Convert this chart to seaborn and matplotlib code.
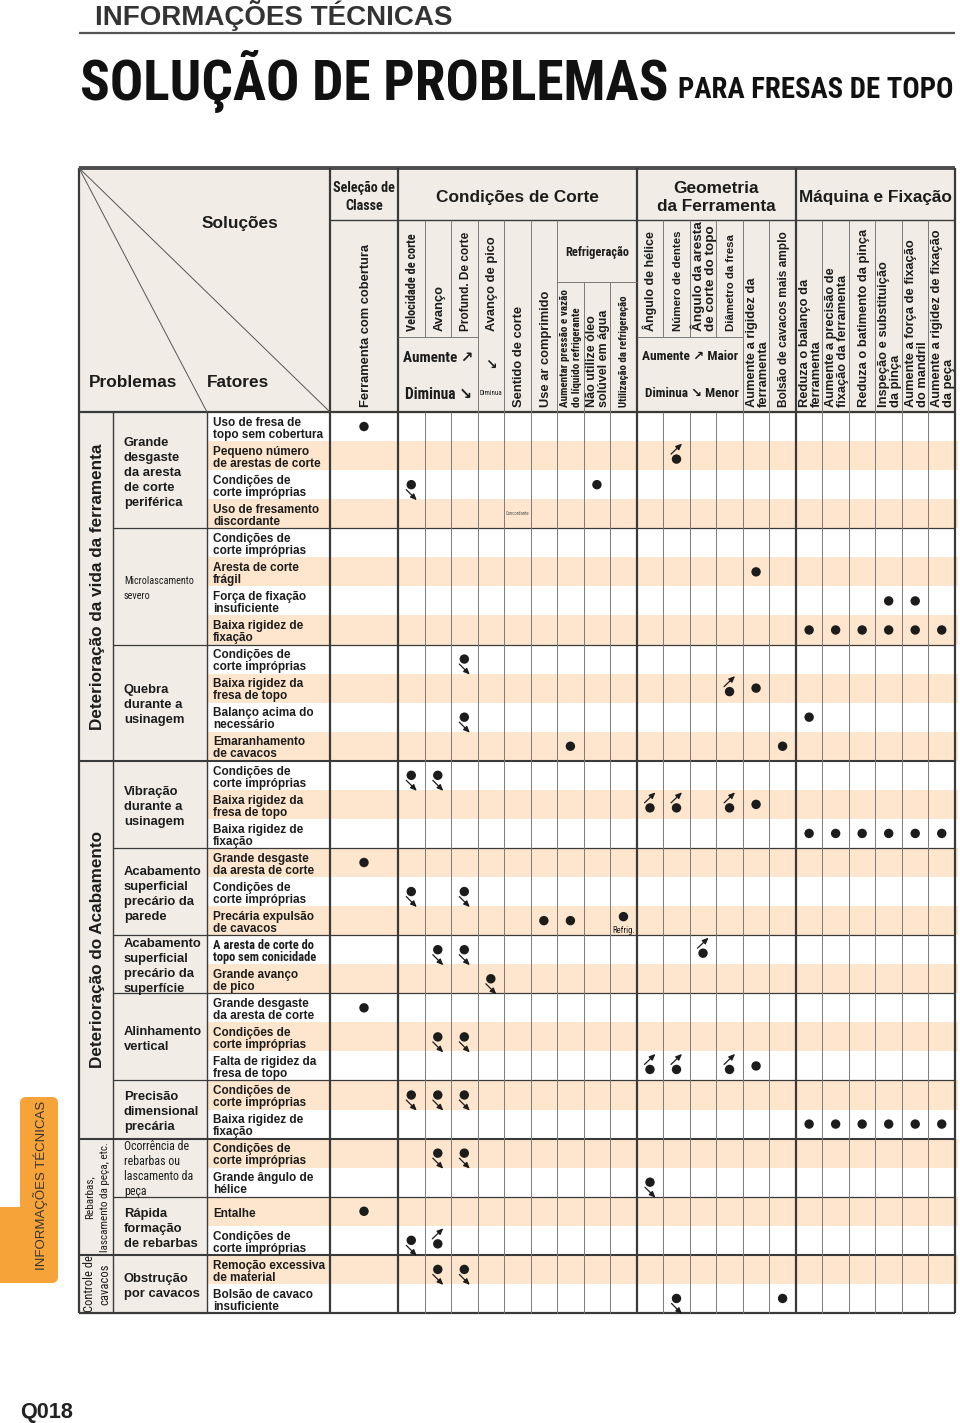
import numpy as np
import pandas as pd
import matplotlib
matplotlib.use("Agg")
import matplotlib.pyplot as plt
import seaborn as sns
from matplotlib.patches import Rectangle, FancyBboxPatch
from matplotlib import font_manager as fm

# ---------------- DATA ----------------
categories = ["Deterioração da vida da ferramenta", "Deterioração do Acabamento",
              "Rebarbas,\nlascamento da peça, etc.", "Controle de\ncavacos"]
category_sizes = [12, 13, 4, 2]

problems = ["Grande\ndesgaste\nda aresta\nde corte\nperiférica", "Microlascamento\nsevero",
            "Quebra\ndurante a\nusinagem", "Vibração\ndurante a\nusinagem",
            "Acabamento\nsuperficial\nprecário da\nparede",
            "Acabamento\nsuperficial\nprecário da\nsuperfície", "Alinhamento\nvertical",
            "Precisão\ndimensional\nprecária", "Ocorrência de\nrebarbas ou\nlascamento da\npeça",
            "Rápida\nformação\nde rebarbas", "Obstrução\npor cavacos"]
problem_sizes = [4, 4, 4, 3, 3, 2, 3, 2, 2, 2, 2]

factors = ["Uso de fresa de\ntopo sem cobertura", "Pequeno número\nde arestas de corte",
           "Condições de\ncorte impróprias", "Uso de fresamento\ndiscordante",
           "Condições de\ncorte impróprias", "Aresta de corte\nfrágil",
           "Força de fixação\ninsuficiente", "Baixa rigidez de\nfixação",
           "Condições de\ncorte impróprias", "Baixa rigidez da\nfresa de topo",
           "Balanço acima do\nnecessário", "Emaranhamento\nde cavacos",
           "Condições de\ncorte impróprias", "Baixa rigidez da\nfresa de topo",
           "Baixa rigidez de\nfixação", "Grande desgaste\nda aresta de corte",
           "Condições de\ncorte impróprias", "Precária expulsão\nde cavacos",
           "A aresta de corte do\ntopo sem conicidade", "Grande avanço\nde pico",
           "Grande desgaste\nda aresta de corte", "Condições de\ncorte impróprias",
           "Falta de rigidez da\nfresa de topo", "Condições de\ncorte impróprias",
           "Baixa rigidez de\nfixação", "Condições de\ncorte impróprias",
           "Grande ângulo de\nhélice", "Entalhe", "Condições de\ncorte impróprias",
           "Remoção excessiva\nde material", "Bolsão de cavaco\ninsuficiente"]

groups = ["Seleção de\nClasse", "Condições de Corte", "Geometria\nda Ferramenta", "Máquina e Fixação"]
group_sizes = [1, 9, 6, 6]

columns = ["Ferramenta com cobertura", "Velocidade de corte", "Avanço", "Profund. De corte",
           "Avanço de pico", "Sentido de corte", "Use ar comprimido",
           "Aumentar pressão e vazão\ndo líquido refrigerante", "Não utilize óleo\nsolúvel em água",
           "Utilização da refrigeração", "Ângulo de hélice", "Número de dentes",
           "Ângulo da aresta\nde corte do topo", "Diâmetro da fresa",
           "Aumente a rigidez da\nferramenta", "Bolsão de cavacos mais amplo",
           "Reduza o balanço da\nferramenta", "Aumente a precisão de\nfixação da ferramenta",
           "Reduza o batimento da pinça", "Inspeção e substituição\nda pinça",
           "Aumente a força de fixação\ndo mandril", "Aumente a rigidez de fixação\nda peça"]
refrig_label = "Refrigeração"
cut_box = ["Aumente ↗", "Diminua ↘"]
geo_box = ["Aumente ↗ Maior", "Diminua ↘ Menor"]
pico_box = ["↘", "Diminua"]

mark_rows = [1, 2, 3, 3, 6, 7, 7, 8, 8, 8, 8, 8, 8, 9, 10, 10, 11, 11, 12, 12, 13, 13,
             14, 14, 14, 14, 15, 15, 15, 15, 15, 15, 16, 17, 17, 18, 18, 18, 19, 19, 19,
             20, 21, 22, 22, 23, 23, 23, 23, 24, 24, 24, 25, 25, 25, 25, 25, 25, 26, 26,
             27, 28, 29, 29, 30, 30, 31, 31]
mark_cols = [0, 11, 1, 8, 14, 19, 20, 16, 17, 18, 19, 20, 21, 3, 13, 14, 3, 16, 7, 15, 1, 2,
             10, 11, 13, 14, 16, 17, 18, 19, 20, 21, 0, 1, 3, 6, 7, 9, 2, 3, 12,
             4, 0, 2, 3, 10, 11, 13, 14, 1, 2, 3, 16, 17, 18, 19, 20, 21, 2, 3,
             10, 0, 1, 2, 2, 3, 11, 15]
mark_kinds = ["dot", "up", "down", "dot", "dot", "dot", "dot", "dot", "dot", "dot", "dot", "dot", "dot",
              "down", "up", "dot", "down", "dot", "dot", "dot", "down", "down",
              "up", "up", "up", "dot", "dot", "dot", "dot", "dot", "dot", "dot",
              "dot", "down", "down", "dot", "dot", "dot", "down", "down", "up",
              "down", "dot", "down", "down", "up", "up", "up", "dot", "down", "down", "down",
              "dot", "dot", "dot", "dot", "dot", "dot", "down", "down",
              "down", "dot", "down", "up", "down", "down", "down", "dot"]

note_rows = [4, 18]
note_cols = [5, 9]
note_texts = ["Concordante", "Refrig."]

# ---------------- FONTS ----------------
sns.set_theme(style="white")
SANS = ["Liberation Sans", "DejaVu Sans"]
_entries = fm.fontManager.ttflist
_names = {e.name for e in _entries}
NARROW, NSTRETCH = ["Liberation Sans", "DejaVu Sans"], "normal"
for cand in ["Liberation Sans Narrow", "Roboto Condensed", "Noto Sans Condensed",
             "Archivo Narrow", "Asap Condensed"]:
    if cand in _names:
        NARROW = [cand, "DejaVu Sans"]
        break
else:
    if any(e.name == "DejaVu Sans" and "condensed" in str(e.stretch) for e in _entries):
        NARROW, NSTRETCH = ["DejaVu Sans"], "condensed"
TITLE, TSTRETCH = NARROW, NSTRETCH
for cand in ["Roboto Condensed", "Barlow Condensed", "Noto Sans Condensed",
             "Liberation Sans Narrow"]:
    if cand in _names:
        TITLE, TSTRETCH = [cand, "DejaVu Sans"], "normal"
        break
plt.rcParams["font.family"] = SANS

INK = "#1c1c1c"
LINE = "#3a3a3a"
GRID = "#7a7a7a"
BEIGE = "#f1ede6"
STRIPE = "#fde6cd"
ORANGE = "#f6a43a"
PX = 100 / 72

X0, X_CAT, X_PROB, X_FAT, X_SEL, X1 = 79, 113, 207, 330, 398, 955
COL_W = (X1 - X_SEL) / 21
Y_TOP, Y_GRP, Y_REF, Y_BOX, Y_HEAD, Y_BOT = 168, 220, 282, 337, 412, 1313
ROW_H = (Y_BOT - Y_HEAD) / len(factors)


def col_left(c):
    return X_FAT if c == 0 else X_SEL + (c - 1) * COL_W


def col_right(c):
    return X_SEL + c * COL_W


def col_center(c):
    return (col_left(c) + col_right(c)) / 2


def row_top(r):
    return Y_HEAD + (r - 1) * ROW_H


def row_center(r):
    return Y_HEAD + (r - 0.5) * ROW_H


fig = plt.figure(figsize=(9.6, 14.23), dpi=100)
ax = fig.add_axes([0, 0, 1, 1])
ax.set_xlim(0, 960)
ax.set_ylim(1423, 0)
fig.patch.set_facecolor("white")
renderer = fig.canvas.get_renderer()


def put(x, y, s, size, lh=None, rot=0, ha="center", weight="bold", family=None,
        color=INK, z=6, maxw=None, fit=None, maxsize=None):
    family = family or SANS
    stretch = NSTRETCH if family is NARROW else (TSTRETCH if family is TITLE else "normal")
    lines = s.split("\n")
    n = len(lines)
    if lh is None:
        lh = size * PX * 1.15
    texts = []
    for i, line in enumerate(lines):
        off = (i - (n - 1) / 2) * lh
        if rot == 0:
            t = ax.text(x, y + off + 0.36 * size * PX, line, fontsize=size, fontweight=weight,
                        family=family, fontstretch=stretch, color=color, ha=ha,
                        va="baseline", zorder=z)
        else:
            t = ax.text(x + off + 0.36 * size * PX, y, line, fontsize=size, fontweight=weight,
                        family=family, fontstretch=stretch, color=color, rotation=90,
                        rotation_mode="anchor", ha=ha, va="baseline", zorder=z)
        texts.append(t)
    if maxw is None and fit is None:
        return texts
    lens = []
    for t in texts:
        bb = t.get_window_extent(renderer)
        lens.append(bb.height if rot else bb.width)
    L = max(lens)
    factor = 1.0
    if fit is not None:
        factor = fit / L
    elif L > maxw:
        factor = maxw / L
    new = size * factor
    if maxsize is not None:
        new = min(new, maxsize)
    if abs(new - size) < 1e-3:
        return texts
    for t in texts:
        t.remove()
    return put(x, y, s, new, lh=lh, rot=rot, ha=ha, weight=weight, family=family,
               color=color, z=z)


# ---- backgrounds ----
ax.add_patch(Rectangle((X0, Y_TOP), X1 - X0, Y_HEAD - Y_TOP, color=BEIGE, zorder=0))
ax.add_patch(Rectangle((X0, Y_HEAD), X_PROB - X0, Y_BOT - Y_HEAD, color=BEIGE, zorder=0))
for r in range(1, len(factors) + 1):
    if r % 2 == 0:
        ax.add_patch(Rectangle((X_PROB, row_top(r)), X1 + 3 - X_PROB, ROW_H, color=STRIPE,
                               lw=0, zorder=0))


# ---- lines ----
def hl(y, xa, xb, lw, c=LINE):
    ax.plot([xa, xb], [y, y], color=c, lw=lw, solid_capstyle="butt", zorder=3)


def vl(x, ya, yb, lw, c=LINE):
    ax.plot([x, x], [ya, yb], color=c, lw=lw, solid_capstyle="butt", zorder=3)


hl(Y_TOP, X0, X1, 2.8, "#4d4d4d")
hl(Y_HEAD, X0, X1, 1.6)
hl(Y_BOT, X0, X1, 1.6)
vl(X0, Y_TOP, Y_BOT, 1.6)
vl(X_CAT, Y_HEAD, Y_BOT, 1.0)
vl(X_PROB, Y_HEAD, Y_BOT, 1.0)
vl(X_FAT, Y_TOP, Y_BOT, 1.6)
hl(Y_GRP, X_FAT, X1, 1.0)

cat_bounds = np.cumsum(category_sizes)[:-1]
prob_bounds = np.cumsum(problem_sizes)[:-1]
for b in prob_bounds:
    if b in cat_bounds:
        hl(row_top(b + 1), X0, X1, 1.5)
    else:
        hl(row_top(b + 1), X_CAT, X1, 0.9)

thick = []
gstart = 0
for gs in group_sizes:
    thick.append(col_right(gstart + gs - 1))
    vl(thick[-1], Y_TOP, Y_BOT, 1.6)
    gstart += gs

short_cols = [1, 2, 3, 10, 11, 12, 13]
for c in range(1, 21):
    x = col_right(c)
    if any(abs(x - t) < 0.5 for t in thick):
        continue
    if c in (1, 2, 10, 11, 12):
        vl(x, Y_GRP, Y_BOX, 0.7, GRID)
        vl(x, Y_HEAD, Y_BOT, 0.7, GRID)
    elif c in (7, 8):
        vl(x, Y_REF, Y_BOT, 0.7, GRID)
    else:
        vl(x, Y_GRP, Y_BOT, 0.7, GRID)
hl(Y_BOX, col_left(1), col_right(3), 0.7, GRID)
hl(Y_BOX, col_left(10), col_right(13), 0.7, GRID)
hl(Y_REF, col_left(7), col_right(9), 0.7, GRID)

ax.plot([X0, X_PROB], [Y_TOP, Y_HEAD], color="#555555", lw=0.7, zorder=3)
ax.plot([X0, X_FAT], [Y_TOP, Y_HEAD], color="#555555", lw=0.7, zorder=3)

# ---- titles ----
ax.text(95, 25, "INFORMAÇÕES TÉCNICAS", fontsize=20, fontweight="bold", color="#333333",
        family=SANS, ha="left", va="baseline")
hl(33, X0, X1, 1.6, "#555555")
put(80, 80, "SOLUÇÃO DE PROBLEMAS", 40, ha="left", family=TITLE, color="#111111",
    fit=588, maxsize=52, weight="heavy")
put(678, 88, "PARA FRESAS DE TOPO", 20, ha="left", family=TITLE, color="#111111",
    fit=275, maxsize=27, weight="heavy")
ax.text(20, 1418, "Q018", fontsize=15.6, fontweight="bold", color="#222222", ha="left",
        va="baseline")

ax.add_patch(FancyBboxPatch((20, 1097), 38, 186, boxstyle="round,pad=0,rounding_size=6",
                            color=ORANGE, lw=0, zorder=1))
ax.add_patch(Rectangle((0, 1207), 30, 76, color=ORANGE, lw=0, zorder=1))
put(40, 1185, "INFORMAÇÕES TÉCNICAS", 9.5, rot=90, weight="normal", color="#333333")

# ---- corner header ----
put(240, 222, "Soluções", 12.4)
put(133, 381, "Problemas", 12.4)
put(238, 381, "Fatores", 12.4)

# ---- group headers ----
gstart = 0
gstyle = [(10.5, NARROW, 18, 62), (12.4, SANS, 18, 170), (12.4, SANS, 18, 150),
          (12.4, SANS, 18, 156)]
for g, gs, (sz, fam, lh, mw) in zip(groups, group_sizes, gstyle):
    xa = col_left(gstart)
    xb = col_right(gstart + gs - 1)
    put((xa + xb) / 2, 196, g, sz, lh=lh, family=fam, maxw=mw)
    gstart += gs
put((col_left(7) + col_right(9)) / 2, 252, refrig_label, 9, family=NARROW, maxw=64)

# ---- column labels ----
col_size = [9.3, 9, 9.3, 8.6, 9.3, 9.3, 9.3, 8.5, 9, 8.5, 9, 8.4, 9.7, 9, 9.3, 8.8,
            9.3, 9.3, 9.3, 9.3, 9.3, 9.3]
col_narrow = [1, 7, 9]
col_len = [165, 98, 50, 100, 96, 103, 120, 117, 118, 112, 100, 100, 110, 96, 130, 177,
           130, 140, 178, 146, 168, 178]
for c, lab in enumerate(columns):
    bottom = 331 if (c in short_cols or c == 4) else 407
    fam = NARROW if c in col_narrow else SANS
    put(col_center(c), bottom, lab, col_size[c], lh=12, rot=90, ha="left", family=fam,
        maxw=col_len[c])

bx = (col_left(1) + col_right(3)) / 2
put(bx, 357, cut_box[0], 12, family=NARROW, maxw=70)
put(bx + 1, 393, cut_box[1], 12, family=NARROW, maxw=67)
gx = (col_left(10) + col_right(13)) / 2
put(gx, 355, geo_box[0], 12, family=NARROW, maxw=96)
put(gx + 2, 392, geo_box[1], 12, family=NARROW, maxw=94)
put(col_center(4), 364, pico_box[0], 10, family=["DejaVu Sans"])
put(col_center(4), 392, pico_box[1], 7, family=NARROW, weight="normal", maxw=23)

# ---- left body text ----
start = 1
cat_style = [(12.3, SANS, "bold", 300), (12.3, SANS, "bold", 240),
             (9.2, NARROW, "normal", 110), (9.5, NARROW, "normal", 57)]
for cat, n, (sz, fam, wt, mw) in zip(categories, category_sizes, cat_style):
    yc = (row_top(start) + row_top(start + n)) / 2
    put(96, yc, cat, sz, lh=15, rot=90, ha="center", family=fam, weight=wt, maxw=mw)
    start += n

start = 1
narrow_probs = [1, 8]
for i, (p, n) in enumerate(zip(problems, problem_sizes)):
    yc = (row_top(start) + row_top(start + n)) / 2
    if i in narrow_probs:
        put(124, yc + 1, p, 9.0, lh=15, ha="left", family=NARROW, weight="normal", maxw=70)
    else:
        put(124, yc + 1, p, 9.4, lh=15, ha="left", maxw=80)
    start += n

for r, f in enumerate(factors, start=1):
    fam = NARROW if r == 19 else SANS
    put(213, row_center(r) + 1, f, 8.5 if r != 19 else 9.0, lh=12, ha="left", family=fam,
        maxw=112)

# ---- marks ----
marks = pd.DataFrame({"row": mark_rows, "col": mark_cols, "kind": mark_kinds})
marks["x"] = [col_center(c) for c in marks["col"]]
marks["y"] = [row_center(r) for r in marks["row"]]
shift = {"dot": 0.0, "down": 0.0, "up": 3.5}
marks["ydot"] = marks["y"] + marks["kind"].map(shift)
for nr, nc in zip(note_rows, note_cols):
    sel = (marks["row"] == nr) & (marks["col"] == nc)
    marks.loc[sel, "ydot"] -= 4

sns.scatterplot(data=marks, x="x", y="ydot", s=46, color=INK, edgecolor="none",
                linewidth=0, legend=False, ax=ax, zorder=5)

for _, m in marks.iterrows():
    if m["kind"] == "down":
        p0, p1 = (m["x"] - 5, m["y"] + 5), (m["x"] + 5.5, m["y"] + 15.5)
    elif m["kind"] == "up":
        p0, p1 = (m["x"] - 5.5, m["y"] - 1.5), (m["x"] + 5.5, m["y"] - 12)
    else:
        continue
    ax.annotate("", xy=p1, xytext=p0,
                arrowprops=dict(arrowstyle="-|>,head_length=0.45,head_width=0.2",
                                mutation_scale=8, color=INK, lw=0.9, shrinkA=0, shrinkB=0),
                zorder=5)

for nr, nc, t in zip(note_rows, note_cols, note_texts):
    if t == "Refrig.":
        put(col_center(nc), row_center(nr) + 9, t, 6.6, family=NARROW, weight="normal", maxw=23)
    else:
        put(col_center(nc), row_center(nr), t, 4.5, family=NARROW, weight="normal",
            color="#555555", maxw=23)

ax.set_xlim(0, 960)
ax.set_ylim(1423, 0)
ax.axis("off")
fig.savefig("out.png", dpi=100, facecolor="white")
